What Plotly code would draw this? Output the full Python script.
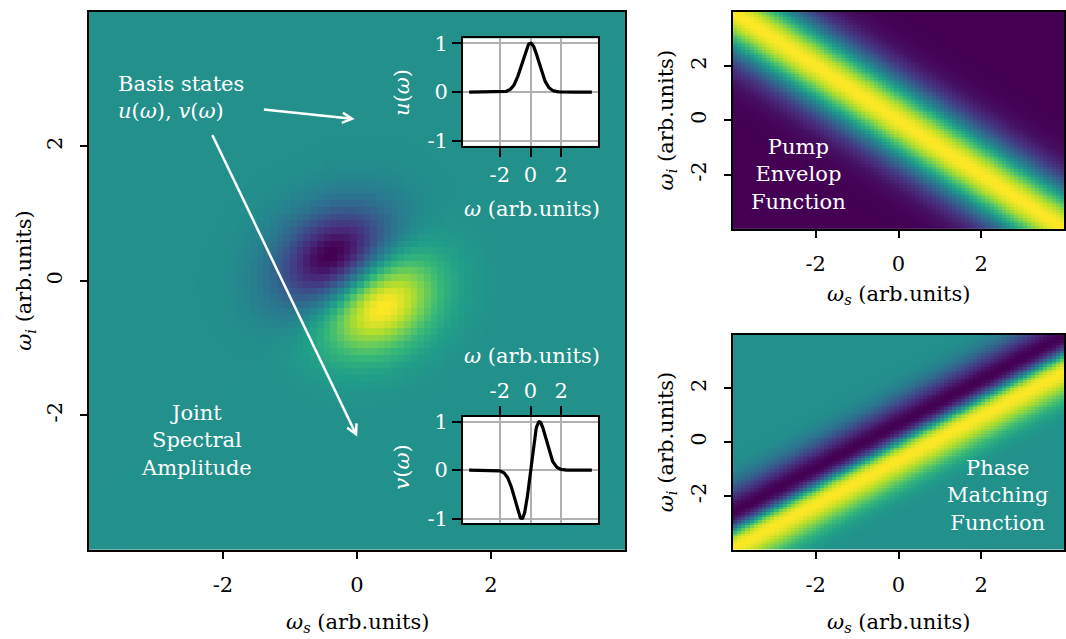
import numpy as np
import plotly.graph_objects as go

# ---- frequency grids (arb. units) ----
grid_lo, grid_hi, n_cells = -4.0, 4.0, 80
step = (grid_hi - grid_lo) / n_cells
ws = grid_lo + step / 2 + step * np.arange(n_cells)   # signal frequency (cell centres)
wi = ws.copy()                                        # idler frequency
w1d = np.linspace(-4, 4, 241)                         # frequency axis for the basis states

# ---- model parameters ----
pump_sigma = 1.08       # Gaussian pump envelope along ws + wi
pm_slope = 0.82         # phase-matching ridge: wi = pm_slope * ws
pm_edge = 0.40          # sharpness of the sign change across the ridge
pm_width = 1.60         # flat-topped envelope across the ridge
pm_order = 3.0
jsa_sigma_q = 0.72      # joint spectrum: lobe offset across the ridge
jsa_sigma_s = 0.90      # joint spectrum: envelope along ws + wi
u_sigma = 0.55          # zeroth-order basis state width
v_sigma = 0.58          # first-order basis state width

WS, WI = np.meshgrid(ws, wi)
S = WS + WI
q = WI - pm_slope * WS

pump = np.exp(-S ** 2 / (2 * pump_sigma ** 2))

pmf = -np.tanh(q / pm_edge) * np.exp(-(np.abs(q) / pm_width) ** pm_order)
pmf = pmf / np.abs(pmf).max()

jsa = -(q / jsa_sigma_q) * np.exp(-q ** 2 / (2 * jsa_sigma_q ** 2)) \
      * np.exp(-S ** 2 / (2 * jsa_sigma_s ** 2))
jsa = jsa / np.abs(jsa).max()

u = np.exp(-w1d ** 2 / (2 * u_sigma ** 2))
v = (w1d / v_sigma) * np.exp(0.5 - w1d ** 2 / (2 * v_sigma ** 2))

tick_vals = [-2, 0, 2]
tick_text = ["-2", "0", "2"]
inset_ytick_vals = [-1, 0, 1]
inset_ytick_text = ["-1", "0", "1"]

# ---- page geometry (pixels) ----
W, H = 1066, 639
FONT = "DejaVu Serif"


def px_x(p):
    return p / W


def px_y(p):
    return 1 - p / H


main_box = (89, 625, 5, 555)        # left, right, top, bottom
pump_box = (733, 1064, 5, 227)
pmf_box = (733, 1064, 335, 555)
u_box = (463, 598, 32, 142)
v_box = (463, 598, 419, 528)


def dom(box):
    l, r, t, b = box
    return [px_x(l), px_x(r)], [px_y(b), px_y(t)]


fig = go.Figure()

heat_common = dict(colorscale="Viridis", showscale=False, zsmooth=False, hoverinfo="skip")
fig.add_trace(go.Heatmap(x=ws, y=wi, z=jsa, zmin=-1, zmax=1, xaxis="x", yaxis="y", **heat_common))
fig.add_trace(go.Heatmap(x=ws, y=wi, z=pump, zmin=0, zmax=1, xaxis="x2", yaxis="y2", **heat_common))
fig.add_trace(go.Heatmap(x=ws, y=wi, z=pmf, zmin=-1, zmax=1, xaxis="x3", yaxis="y3", **heat_common))
fig.add_trace(go.Scatter(x=w1d, y=u, mode="lines", line=dict(color="black", width=3.2),
                         xaxis="x4", yaxis="y4", hoverinfo="skip"))
fig.add_trace(go.Scatter(x=w1d, y=v, mode="lines", line=dict(color="black", width=3.2),
                         xaxis="x5", yaxis="y5", hoverinfo="skip"))


def heat_axes(box):
    xd, yd = dom(box)
    common = dict(range=[-4, 4], tickvals=tick_vals, ticktext=tick_text, ticks="outside",
                  ticklen=7, tickwidth=1.5, tickcolor="black", showline=True, linewidth=1.5,
                  linecolor="black", mirror=True, showgrid=False, zeroline=False,
                  tickfont=dict(family=FONT, size=21, color="black"), fixedrange=True)
    xa = dict(domain=xd, ticklabelstandoff=8, **common)
    ya = dict(domain=yd, tickangle=-90, ticklabelstandoff=10, **common)
    return xa, ya


def inset_axes(box, anchor_x, anchor_y, side):
    xd, yd = dom(box)
    common = dict(ticks="outside", ticklen=9, tickwidth=1.5, tickcolor="black", showline=True,
                  linewidth=1.8, linecolor="black", mirror=True, showgrid=True,
                  gridcolor="#b0b0b0", gridwidth=1.5, zeroline=False,
                  tickfont=dict(family=FONT, size=21, color="white"), fixedrange=True)
    xa = dict(domain=xd, range=[-4.4, 4.4], tickvals=tick_vals, ticktext=tick_text,
              anchor=anchor_y, side=side, **common)
    ya = dict(domain=yd, range=[-1.1, 1.1], tickvals=inset_ytick_vals,
              ticktext=inset_ytick_text, anchor=anchor_x, **common)
    return xa, ya


x1, y1 = heat_axes(main_box)
x2, y2 = heat_axes(pump_box)
x3, y3 = heat_axes(pmf_box)
x4, y4 = inset_axes(u_box, "x4", "y4", "bottom")
x5, y5 = inset_axes(v_box, "x5", "y5", "top")

fig.update_layout(
    width=W, height=H, margin=dict(l=0, r=0, t=0, b=0), autosize=False,
    paper_bgcolor="white", plot_bgcolor="white", showlegend=False,
    xaxis=dict(anchor="y", **x1), yaxis=dict(anchor="x", **y1),
    xaxis2=dict(anchor="y2", **x2), yaxis2=dict(anchor="x2", **y2),
    xaxis3=dict(anchor="y3", **x3), yaxis3=dict(anchor="x3", **y3),
    xaxis4=x4, yaxis4=y4, xaxis5=x5, yaxis5=y5,
)

shapes = []
# white panels behind the basis-state insets
for ax in ("4", "5"):
    shapes.append(dict(type="rect", xref=f"x{ax} domain", yref=f"y{ax} domain",
                       x0=0, x1=1, y0=0, y1=1, fillcolor="white", line_width=0, layer="below"))

# arrows from the "Basis states" label to the insets (main-axis coordinates)
ml, mr, mt, mb = main_box
sx = (mr - ml) / 8.0
sy = (mb - mt) / 8.0
arrows = [((-1.39, 2.55), (-0.075, 2.41)),
          ((-2.16, 2.17), (-0.015, -2.28))]
head_len, head_ang = 11.0, np.deg2rad(28)
for (tx, ty), (hx, hy) in arrows:
    dxp, dyp = (hx - tx) * sx, -(hy - ty) * sy
    n = np.hypot(dxp, dyp)
    ux, uy = dxp / n, dyp / n
    arms = []
    for sgn in (1, -1):
        c, s = np.cos(sgn * head_ang), np.sin(sgn * head_ang)
        rx, ry = ux * c - uy * s, ux * s + uy * c
        arms.append((hx - head_len * rx / sx, hy + head_len * ry / sy))
    shapes.append(dict(type="line", xref="x", yref="y", x0=tx, y0=ty, x1=hx, y1=hy,
                       line=dict(color="white", width=2.5), layer="above"))
    path = f"M {arms[0][0]},{arms[0][1]} L {hx},{hy} L {arms[1][0]},{arms[1][1]}"
    shapes.append(dict(type="path", xref="x", yref="y", path=path,
                       line=dict(color="white", width=2.5), layer="above"))
fig.update_layout(shapes=shapes)


def note(text, x, y, size=21, color="black", angle=0, xanchor="center", align="center"):
    fig.add_annotation(text=text, x=px_x(x), y=px_y(y), xref="paper", yref="paper",
                       showarrow=False, textangle=angle, xanchor=xanchor, yanchor="middle",
                       align=align, font=dict(family=FONT, size=size, color=color))


ws_title = "<i>ω</i><sub><i>s</i></sub> (arb.units)"
wi_title = "<i>ω</i><sub><i>i</i></sub> (arb.units)"
note(ws_title, 357, 630)
note(wi_title, 25, 280, angle=-90)
note(ws_title, 898, 294)
note(wi_title, 667, 116, angle=-90)
note(ws_title, 898, 630)
note(wi_title, 667, 445, angle=-90)

note("<i>ω</i> (arb.units)", 532, 207, color="white")
note("<i>ω</i> (arb.units)", 532, 357, color="white")
note("<i>u</i>(<i>ω</i>)", 402, 88, color="white", angle=-90)
note("<i>v</i>(<i>ω</i>)", 402, 471, color="white", angle=-90)

note("Basis states<br><i>u</i>(<i>ω</i>), <i>v</i>(<i>ω</i>)", 116, 93, size=21,
     color="white", xanchor="left", align="left")
note("Joint<br>Spectral<br>Amplitude", 196, 443, color="white")
note("Pump<br>Envelop<br>Function", 798, 171, color="white")
note("Phase<br>Matching<br>Function", 997, 499, color="white")

fig.write_html("out.html")
